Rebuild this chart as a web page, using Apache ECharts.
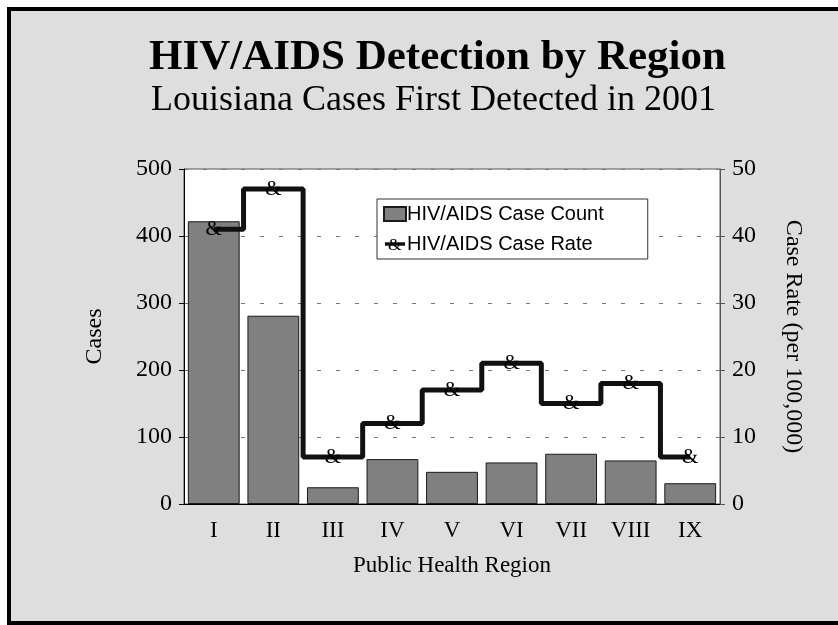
<!DOCTYPE html>
<html>
<head>
    <meta charset="utf-8" />
    <title>HIV/AIDS Detection by Region</title>
    <script src="https://cdn.jsdelivr.net/npm/echarts@6/dist/echarts.min.js"></script>
    <style>
        html, body { margin: 0; padding: 0; background: #fff; }
        #main { width: 838px; height: 625px; }
    </style>
</head>
<body>
    <div id="main"></div>
    <script type="text/javascript">
        // data
        var regions = ['I', 'II', 'III', 'IV', 'V', 'VI', 'VII', 'VIII', 'IX'];
        var caseCount = [422, 281, 25, 67, 48, 62, 75, 65, 31];
        var caseRate = [41, 47, 7, 12, 17, 21, 15, 18, 7];
        var casesTicks = { min: 0, max: 500, interval: 100 };
        var rateTicks = { min: 0, max: 50, interval: 10 };

        var serif = 'Liberation Serif';

        // legend icon: thick line with the "&" marker on it
        var rateIconSvg = '<svg xmlns="http://www.w3.org/2000/svg" width="22" height="15">' +
            '<line x1="0" y1="7.5" x2="22" y2="7.5" stroke="#111" stroke-width="4"/>' +
            '<text x="11" y="13.5" font-family="Liberation Serif" font-size="19" text-anchor="middle" fill="#000">&amp;</text>' +
            '</svg>';
        var rateIcon = 'image://data:image/svg+xml;charset=utf-8,' + encodeURIComponent(rateIconSvg);

        var myChart = echarts.init(document.getElementById('main'));
        var option = {
            animation: false,
            backgroundColor: '#fff',
            graphic: [
                {
                    type: 'rect',
                    z: -10,
                    silent: true,
                    shape: { x: 9, y: 9, width: 840, height: 614 },
                    style: { fill: '#dedede', stroke: '#000', lineWidth: 4 }
                }
            ],
            title: [
                {
                    text: 'HIV/AIDS Detection by Region',
                    left: 144,
                    top: 31,
                    textStyle: { fontFamily: serif, fontSize: 43, fontWeight: 'bold', color: '#000' }
                },
                {
                    text: 'Louisiana Cases First Detected in 2001',
                    left: 146,
                    top: 78,
                    textStyle: { fontFamily: serif, fontSize: 36, fontWeight: 'normal', color: '#000' }
                }
            ],
            legend: {
                orient: 'vertical',
                left: 377,
                top: 199,
                padding: [5, 44, 5, 6],
                itemGap: 10,
                itemWidth: 22,
                itemHeight: 14,
                backgroundColor: '#fff',
                borderColor: '#333',
                borderWidth: 1,
                borderRadius: 0,
                textStyle: { fontFamily: 'Liberation Sans', fontSize: 20, color: '#000', padding: [0, 0, 0, -4] },
                data: [
                    { name: 'HIV/AIDS Case Count', icon: 'rect' },
                    { name: 'HIV/AIDS Case Rate', icon: rateIcon }
                ]
            },
            grid: {
                left: 184,
                right: 118,
                top: 169,
                bottom: 121,
                show: true,
                backgroundColor: '#fff',
                borderColor: '#555',
                borderWidth: 1
            },
            xAxis: {
                type: 'category',
                data: regions,
                name: 'Public Health Region',
                nameLocation: 'middle',
                nameGap: 50,
                nameTextStyle: { fontFamily: serif, fontSize: 23, color: '#000' },
                axisLine: { lineStyle: { color: '#000', width: 1 } },
                axisTick: { show: false },
                axisLabel: { margin: 15, fontFamily: serif, fontSize: 23, color: '#000' }
            },
            yAxis: [
                {
                    type: 'value',
                    min: casesTicks.min,
                    max: casesTicks.max,
                    interval: casesTicks.interval,
                    name: 'Cases',
                    nameLocation: 'middle',
                    nameGap: 77,
                    nameTextStyle: { fontFamily: serif, fontSize: 24, color: '#000' },
                    axisLine: { show: true, lineStyle: { color: '#000', width: 1 } },
                    axisTick: { show: true, length: 5, lineStyle: { color: '#000' } },
                    axisLabel: { margin: 12, fontFamily: serif, fontSize: 24, color: '#000' },
                    splitLine: { show: true, lineStyle: { color: '#777', width: 1, type: [4, 15] } }
                },
                {
                    type: 'value',
                    position: 'right',
                    min: rateTicks.min,
                    max: rateTicks.max,
                    interval: rateTicks.interval,
                    name: 'Case Rate (per 100,000)',
                    nameLocation: 'middle',
                    nameRotate: -90,
                    nameGap: 61,
                    nameTextStyle: { fontFamily: serif, fontSize: 24, color: '#000' },
                    axisLine: { show: true, lineStyle: { color: '#555', width: 1 } },
                    axisTick: { show: true, length: 5, lineStyle: { color: '#555' } },
                    axisLabel: { margin: 12, fontFamily: serif, fontSize: 24, color: '#000' },
                    splitLine: { show: false }
                }
            ],
            series: [
                {
                    name: 'HIV/AIDS Case Count',
                    type: 'bar',
                    yAxisIndex: 0,
                    barCategoryGap: '13%',
                    itemStyle: { color: '#808080', borderColor: '#1a1a1a', borderWidth: 1 },
                    emphasis: { disabled: true },
                    data: caseCount
                },
                {
                    name: 'HIV/AIDS Case Rate',
                    type: 'line',
                    yAxisIndex: 1,
                    step: 'middle',
                    symbol: 'circle',
                    symbolSize: 1,
                    itemStyle: { color: 'rgba(0,0,0,0)' },
                    lineStyle: { color: '#111', width: 5 },
                    label: {
                        show: true,
                        position: 'inside',
                        formatter: '&',
                        fontFamily: serif,
                        fontSize: 21,
                        color: '#000'
                    },
                    emphasis: { disabled: true },
                    z: 3,
                    data: caseRate
                }
            ]
        };
        myChart.setOption(option);
    </script>
</body>
</html>
